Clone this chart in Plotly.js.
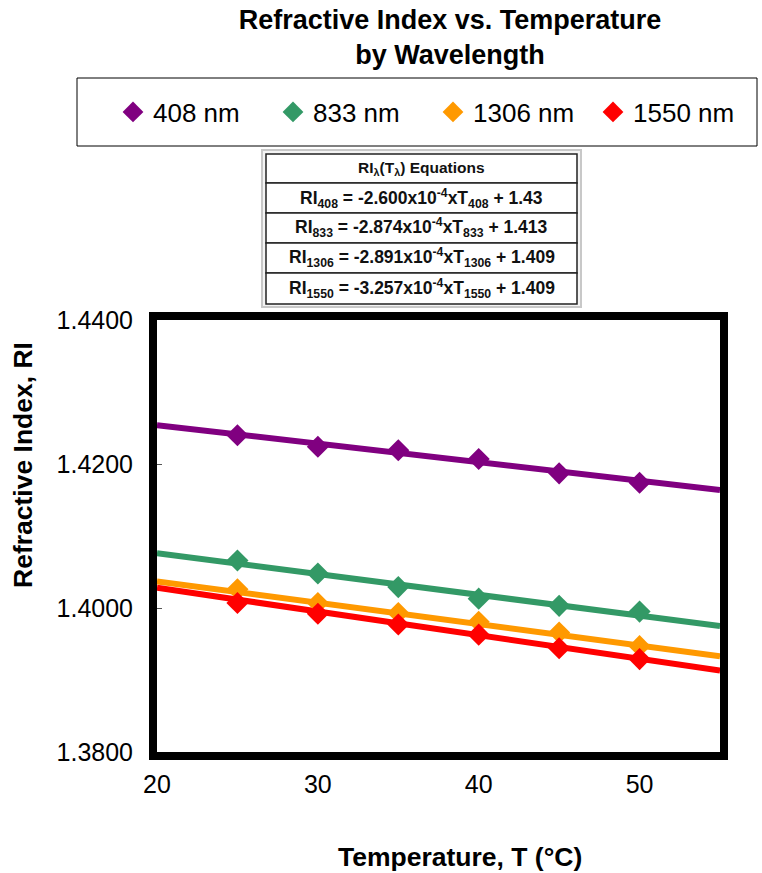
<!DOCTYPE html>
<html><head><meta charset="utf-8">
<script src="https://cdn.plot.ly/plotly-3.0.1.min.js"></script>
<style>body{margin:0;background:#fff}#chart{width:762px;height:873px}</style>
</head><body><div id="chart"></div>
<script>
// Data
const temps = [25, 30, 35, 40, 45, 50];
const trendX = [20, 55];
const seriesNames = ['408 nm', '833 nm', '1306 nm', '1550 nm'];
const colors = ['#800080', '#339966', '#FF9900', '#FF0000'];
const ri408 = [1.4240, 1.4224, 1.4219, 1.4207, 1.4187, 1.4174];
const ri833 = [1.4066, 1.4048, 1.4029, 1.4013, 1.4003, 1.3995];
const ri1306 = [1.4026, 1.4007, 1.3993, 1.3981, 1.3966, 1.3947];
const ri1550 = [1.4007, 1.3992, 1.3977, 1.3963, 1.3944, 1.3929];
const trend408 = [1.4254, 1.4164];
const trend833 = [1.4076, 1.3975];
const trend1306 = [1.4037, 1.3933];
const trend1550 = [1.4028, 1.3913];
const eqHeader = 'RI<sub>λ</sub>(T<sub>λ</sub>) Equations';
const equations = [
  'RI<sub>408</sub> = -2.600x10<sup>-4</sup>xT<sub>408</sub> + 1.43',
  'RI<sub>833</sub> = -2.874x10<sup>-4</sup>xT<sub>833</sub> + 1.413',
  'RI<sub>1306</sub> = -2.891x10<sup>-4</sup>xT<sub>1306</sub> + 1.409',
  'RI<sub>1550</sub> = -3.257x10<sup>-4</sup>xT<sub>1550</sub> + 1.409'
];

const pts = [ri408, ri833, ri1306, ri1550];
const trends = [trend408, trend833, trend1306, trend1550];
const traces = [];
for (let i = 0; i < 4; i++) {
  traces.push({x: trendX, y: trends[i], mode: 'lines', line: {color: colors[i], width: 6},
    showlegend: false, hoverinfo: 'skip'});
}
for (let i = 0; i < 4; i++) {
  traces.push({x: temps, y: pts[i], mode: 'markers', name: seriesNames[i],
    marker: {symbol: 'diamond', size: 17, color: colors[i]}});
}

// Geometry helpers (paper coords from pixel positions)
const W = 563, H = 432, L = 157, T = 320;
const px = v => (v - L) / W;
const py = v => (T + H - v) / H;
const tx0 = 266, tx1 = 577;
const rowY = [154, 183, 213, 243, 273, 304];
const shapes = [];
shapes.push({type: 'rect', xref: 'paper', yref: 'paper', x0: px(262), x1: px(581), y0: py(150), y1: py(307),
  line: {color: '#c8c8c8', width: 2}, fillcolor: '#f4f4f4', layer: 'below'});
for (let r = 0; r < 5; r++) {
  shapes.push({type: 'rect', xref: 'paper', yref: 'paper', x0: px(tx0), x1: px(tx1), y0: py(rowY[r]), y1: py(rowY[r+1]),
    line: {color: '#222', width: 1.5}, fillcolor: '#ffffff'});
}
// legend border
shapes.push({type: 'rect', xref: 'paper', yref: 'paper', x0: px(77), x1: px(757), y0: py(78), y1: py(146),
  line: {color: '#000', width: 1}});

const annotations = [];
const tfont = {family: 'Liberation Sans, Arial', size: 17.5, color: '#111'};
const allRows = [eqHeader].concat(equations);
for (let r = 0; r < 5; r++) {
  annotations.push({xref: 'paper', yref: 'paper', x: px((tx0 + tx1) / 2), y: py((rowY[r] + rowY[r+1]) / 2),
    xanchor: 'center', yanchor: 'middle', showarrow: false, text: '<b>' + allRows[r] + '</b>',
    font: r === 0 ? {family: tfont.family, size: 15.5, color: '#111'} : tfont});
}
// axis titles (offset from axis centre, as in the reference)
annotations.push({xref: 'paper', yref: 'paper', x: px(23), y: py(465), xanchor: 'center', yanchor: 'middle',
  showarrow: false, textangle: -90, text: '<b>Refractive Index, RI</b>', font: {size: 26.5, color: '#000'}});
annotations.push({xref: 'paper', yref: 'paper', x: px(460), y: py(857), xanchor: 'center', yanchor: 'middle',
  showarrow: false, text: '<b>Temperature, T (°C)</b>', font: {size: 26.5, color: '#000'}});

const layout = {
  width: 762, height: 873,
  margin: {l: L, r: 762 - 720, t: T, b: 873 - 752},
  paper_bgcolor: '#fff', plot_bgcolor: '#fff',
  font: {family: 'Liberation Sans, Arial, sans-serif', color: '#000'},
  title: {text: '<b>Refractive Index vs. Temperature<br>by Wavelength</b>', x: 450 / 762, xref: 'container', xanchor: 'center',
    y: 1 - 29 / 873, yref: 'container', yanchor: 'middle', font: {size: 27, family: 'Liberation Sans, Arial', color: '#000'}},
  xaxis: {range: [20, 55], dtick: 10, tick0: 20, showgrid: false, zeroline: false, showline: true, mirror: true,
    linecolor: '#000', linewidth: 8, ticks: '', tickfont: {size: 25}, ticklabelstandoff: 3},
  yaxis: {range: [1.38, 1.44], dtick: 0.02, tick0: 1.38, tickformat: '.4f', showgrid: false, zeroline: false,
    showline: true, mirror: true, linecolor: '#000', linewidth: 8, ticks: 'inside', ticklen: 5, tickcolor: '#555', tickwidth: 1,
    tickfont: {size: 25}, ticklabelstandoff: 11},
  showlegend: true,
  legend: {orientation: 'h', x: px(113), y: py(112), xanchor: 'left', yanchor: 'middle', xref: 'paper', yref: 'paper',
    font: {size: 26, family: 'Liberation Sans, Arial'}, entrywidth: 115, itemwidth: 30, bgcolor: 'rgba(0,0,0,0)'},
  shapes: shapes,
  annotations: annotations
};
Plotly.newPlot('chart', traces, layout, {displayModeBar: false, staticPlot: true});
</script></body></html>
